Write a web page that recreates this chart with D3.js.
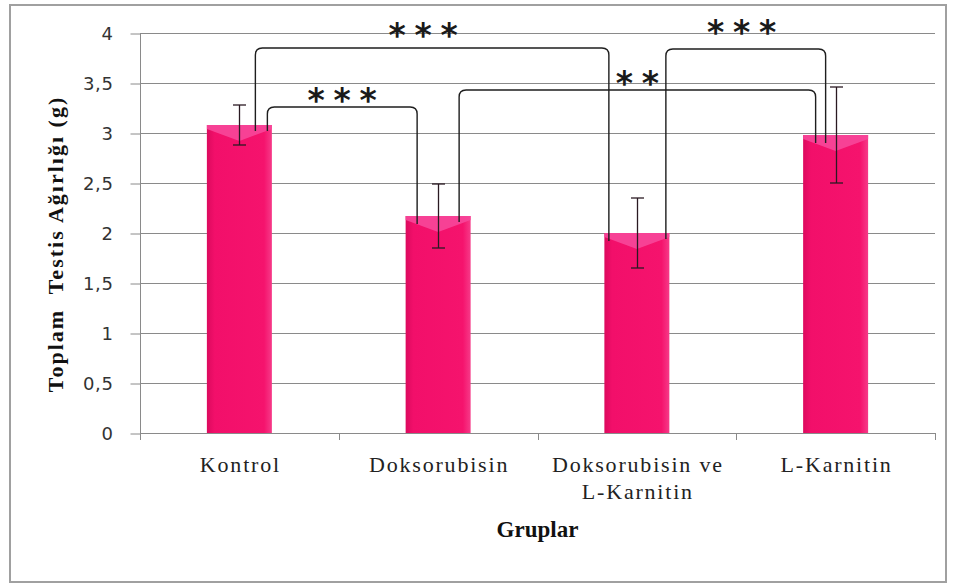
<!DOCTYPE html>
<html><head><meta charset="utf-8">
<script src="https://cdn.jsdelivr.net/npm/d3@7"></script>
<style>body{margin:0;background:#fff}svg{display:block}</style>
</head><body>
<svg id="c" width="955" height="586"></svg>
<script>
// ---- data ----
const categories = ["Kontrol", "Doksorubisin", "Doksorubisin ve\nL-Karnitin", "L-Karnitin"];
const values = [3.08, 2.17, 2.00, 2.98];
const errors = [0.20, 0.32, 0.35, 0.48];
const yTicks = [0, 0.5, 1, 1.5, 2, 2.5, 3, 3.5, 4];
const yTickLabels = ["0", "0,5", "1", "1,5", "2", "2,5", "3", "3,5", "4"];
const yTitle = "Toplam  Testis Ağırlığı (g)";
const xTitle = "Gruplar";
// significance brackets: from group, to group, level (y units), label
const bracketFrom = [0, 0, 1, 2];
const bracketTo = [1, 2, 3, 3];
const bracketLevel = [3.26, 3.85, 3.43, 3.84];
const bracketLabel = ["***", "***", "**", "***"];

// ---- layout ----
const W = 955, H = 586;
const plot = {left: 140, right: 935, top: 33, bottom: 433};
const bracketOffsets = [[28, -21], [16, -28], [21, -20], [29, -10]];
const starLift = [12, 18, 12, 22];
const starShift = [0, -9, 0, -4];
const serif = "'Liberation Serif', 'Times New Roman', 'DejaVu Serif', serif";

const svg = d3.select("#c");
svg.append("rect").attr("x", 10).attr("y", 5).attr("width", 936).attr("height", 577)
  .attr("fill", "#fff").attr("stroke", "#a0a0a0").attr("stroke-width", 2);

const x = d3.scaleBand().domain(d3.range(categories.length))
  .range([plot.left, plot.right]).paddingInner(0.673).paddingOuter(0.3365);
const y = d3.scaleLinear().domain([0, 4]).range([plot.bottom, plot.top]);
const xc = i => x(i) + x.bandwidth() / 2;

// gridlines
svg.append("g").selectAll("line").data(yTicks.filter(d => d > 0)).join("line")
  .attr("x1", plot.left).attr("x2", plot.right)
  .attr("y1", d => Math.round(y(d)) + 0.5).attr("y2", d => Math.round(y(d)) + 0.5)
  .attr("stroke", "#8a8a8a").attr("stroke-width", 1);

// y axis
const yAxis = d3.axisLeft(y).tickValues(yTicks).tickSize(10).tickPadding(17)
  .tickFormat((d, i) => yTickLabels[i]);
const gy = svg.append("g").attr("transform", `translate(${plot.left + 0.5},0.5)`).call(yAxis);
gy.select(".domain").attr("stroke", "#8a8a8a").attr("d", `M0,${plot.top - 0.5}V${plot.bottom}`);
gy.selectAll(".tick line").attr("stroke", "#8a8a8a");
gy.selectAll(".tick text").attr("font-family", "'DejaVu Sans', Verdana, sans-serif")
  .attr("font-size", 18).attr("letter-spacing", 0.6).attr("fill", "#333").attr("dy", "0.36em");

// x axis
const xEdge = d3.scaleLinear().domain([0, categories.length]).range([plot.left, plot.right]);
const gx = svg.append("g");
gx.append("line").attr("x1", plot.left).attr("x2", plot.right)
  .attr("y1", plot.bottom + 0.5).attr("y2", plot.bottom + 0.5).attr("stroke", "#8a8a8a");
gx.selectAll("line.t").data(d3.range(categories.length + 1)).join("line").attr("class", "t")
  .attr("x1", d => Math.round(xEdge(d)) + 0.5).attr("x2", d => Math.round(xEdge(d)) + 0.5)
  .attr("y1", plot.bottom).attr("y2", plot.bottom + 7).attr("stroke", "#8a8a8a");
gx.selectAll("text.c").data(categories).join("text").attr("class", "c")
  .attr("text-anchor", "middle").attr("font-family", serif)
  .attr("font-size", 22).attr("letter-spacing", 1.8).attr("fill", "#222")
  .each(function (d, i) {
    d.split("\n").forEach((line, k) => {
      d3.select(this).append("tspan").attr("x", xc(i) + 1).attr("y", 472 + k * 27).text(line);
    });
  });

// bars
const defs = svg.append("defs");
const grad = defs.append("linearGradient").attr("id", "bg").attr("x1", 0).attr("x2", 1);
grad.append("stop").attr("offset", 0).attr("stop-color", "#DC0A5E");
grad.append("stop").attr("offset", 0.12).attr("stop-color", "#F20F6A");
grad.append("stop").attr("offset", 0.88).attr("stop-color", "#F5136D");
grad.append("stop").attr("offset", 1).attr("stop-color", "#F63A88");

const bars = svg.append("g").selectAll("g").data(values).join("g");
bars.append("rect").attr("x", (d, i) => x(i)).attr("width", x.bandwidth())
  .attr("y", d => y(d)).attr("height", d => y(0) - y(d)).attr("fill", "url(#bg)");
bars.append("path").attr("fill", "#F7479A").attr("opacity", 0.9)
  .attr("d", (d, i) => {
    const x0 = x(i), x1 = x(i) + x.bandwidth(), t = y(d), m = xc(i);
    return `M${x0},${t}L${x1},${t}L${x1},${t + 4}L${m},${t + 16}L${x0},${t + 4}Z`;
  });

// error bars
const eb = svg.append("g").attr("stroke", "#2a1a22").attr("stroke-width", 1.3);
values.forEach((v, i) => {
  const cx = Math.round(xc(i)) + 0.5;
  eb.append("line").attr("x1", cx).attr("x2", cx).attr("y1", y(v + errors[i])).attr("y2", y(v - errors[i]));
  [v + errors[i], v - errors[i]].forEach(e => {
    eb.append("line").attr("x1", cx - 6.5).attr("x2", cx + 6.5).attr("y1", y(e)).attr("y2", y(e));
  });
});

// brackets
const br = svg.append("g");
bracketFrom.forEach((a, k) => {
  const b = bracketTo[k];
  const xl = xc(a) + bracketOffsets[k][0], xr = xc(b) + bracketOffsets[k][1];
  const yt = y(bracketLevel[k]);
  const yl = y(values[a]) + 6, yr = y(values[b]) + 8;
  const r = 7;
  const p = d3.path();
  p.moveTo(xl, yl);
  p.lineTo(xl, yt + r);
  p.quadraticCurveTo(xl, yt, xl + r, yt);
  p.lineTo(xr - r, yt);
  p.quadraticCurveTo(xr, yt, xr, yt + r);
  p.lineTo(xr, yr);
  br.append("path").attr("d", p.toString()).attr("fill", "none")
    .attr("stroke", "#1e1e1e").attr("stroke-width", 1.4);
  const n = bracketLabel[k].length, mid = (xl + xr) / 2 + starShift[k], sp = 26;
  for (let s = 0; s < n; s++) {
    br.append("text").attr("x", mid + (s - (n - 1) / 2) * sp).attr("y", yt - starLift[k] + 17)
      .attr("text-anchor", "middle").attr("font-family", "'DejaVu Sans', sans-serif")
      .attr("font-weight", "bold").attr("font-size", 33).attr("fill", "#1a1a1a").text("*");
  }
});

// titles
svg.append("text").attr("transform", "translate(63,244) rotate(-90)")
  .attr("text-anchor", "middle").attr("font-family", serif)
  .attr("font-weight", "bold").attr("font-size", 22).attr("letter-spacing", 2).attr("fill", "#111")
  .attr("xml:space", "preserve").style("white-space", "pre").text(yTitle);
svg.append("text").attr("x", (plot.left + plot.right) / 2).attr("y", 537)
  .attr("text-anchor", "middle").attr("font-family", serif)
  .attr("font-weight", "bold").attr("font-size", 23).attr("fill", "#111").text(xTitle);
</script>
</body></html>
